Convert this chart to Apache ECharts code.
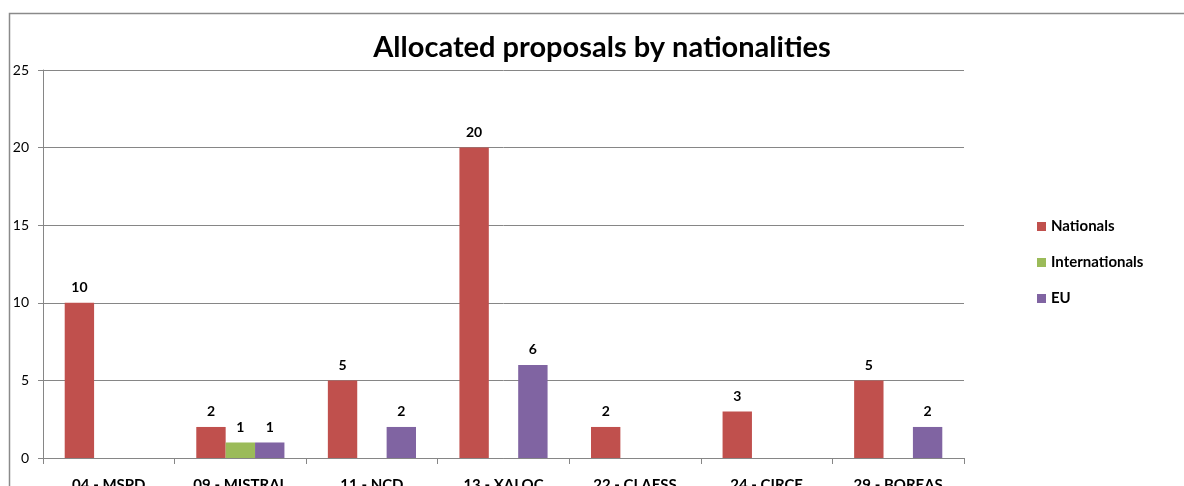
<!DOCTYPE html>
<html>
<head>
<meta charset="utf-8">
<style>
  html, body { margin: 0; padding: 0; background: #fff; }
  #chart { width: 1184px; height: 486px; }
</style>
<script src="https://cdn.jsdelivr.net/npm/echarts@6/dist/echarts.min.js"></script>
</head>
<body>
<div id="chart"></div>
<script>
// Beamlines and allocated proposals per user origin
const categories = ['04 - MSPD', '09 - MISTRAL', '11 - NCD', '13 - XALOC', '22 - CLAESS', '24 - CIRCE', '29 - BOREAS'];
const nationals = [10, 2, 5, 20, 2, 3, 5];
const internationals = [null, 1, null, null, null, null, null];
const eu = [null, 1, 2, 6, null, null, 2];
const yTicks = [0, 5, 10, 15, 20, 25];

const FONT = 'Lato, "Open Sans", sans-serif';

const chart = echarts.init(document.getElementById('chart'), null, { renderer: 'canvas' });

const labelStyle = {
  show: true,
  position: 'top',
  distance: 8,
  color: '#000',
  fontFamily: FONT,
  fontWeight: 'bold',
  fontSize: 14
};

function barSeries(name, data, color) {
  return {
    name: name,
    type: 'bar',
    data: data,
    barGap: '0%',
    barCategoryGap: '33%',
    itemStyle: { color: color },
    label: labelStyle,
    emphasis: { disabled: true }
  };
}

chart.setOption({
  animation: false,
  backgroundColor: '#fff',
  title: {
    text: 'Allocated proposals by nationalities',
    left: 597,
    textAlign: 'center',
    top: 28,
    textStyle: { fontFamily: FONT, fontWeight: 'bold', fontSize: 29, color: '#000' }
  },
  graphic: [{
    type: 'rect',
    shape: { x: 9.5, y: 13.5, width: 1400, height: 700 },
    style: { fill: 'none', stroke: '#8a8a8a', lineWidth: 1.5 },
    silent: true,
    z: -1
  }],
  legend: {
    orient: 'vertical',
    left: 1032,
    top: 214,
    itemWidth: 9,
    itemHeight: 9,
    itemGap: 21,
    icon: 'rect',
    selectedMode: false,
    textStyle: { fontFamily: FONT, fontWeight: 'bold', fontSize: 15, color: '#000', padding: [0, 0, 0, 0] },
    data: ['Nationals', 'Internationals', 'EU']
  },
  grid: { left: 43, right: 220, top: 70, bottom: 28, containLabel: false, outerBoundsMode: 'none' },
  xAxis: {
    type: 'category',
    data: categories,
    axisLine: { lineStyle: { color: '#868686', width: 1 } },
    axisTick: { show: true, length: 6, alignWithLabel: false, lineStyle: { color: '#868686' } },
    axisLabel: { margin: 20, color: '#000', fontFamily: FONT, fontWeight: 'bold', fontSize: 15, interval: 0 }
  },
  yAxis: {
    type: 'value',
    min: yTicks[0],
    max: yTicks[yTicks.length - 1],
    interval: 5,
    axisLine: { show: true, lineStyle: { color: '#868686', width: 1 } },
    axisTick: { show: true, length: 5, lineStyle: { color: '#868686' } },
    axisLabel: { margin: 14, color: '#000', fontFamily: FONT, fontSize: 14 },
    splitLine: { show: true, lineStyle: { color: '#868686', width: 1 } }
  },
  series: [
    barSeries('Nationals', nationals, '#C0504D'),
    barSeries('Internationals', internationals, '#9BBB59'),
    barSeries('EU', eu, '#8064A2')
  ]
});
</script>
</body>
</html>
